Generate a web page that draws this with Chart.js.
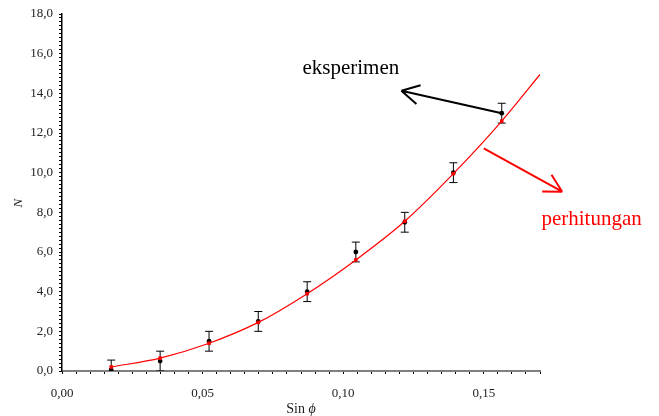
<!DOCTYPE html>
<html>
<head>
<meta charset="utf-8">
<script src="https://cdn.jsdelivr.net/npm/chart.js@4.4.1/dist/chart.umd.min.js"></script>
<style>
  html, body { margin: 0; padding: 0; background: #fff; }
  #wrap { width: 659px; height: 416px; position: relative; }
</style>
</head>
<body>
<div id="wrap"><canvas id="chart"></canvas></div>
<script>
// sin phi untuk sudut 1..9 derajat
const sinPhi = [0.0175, 0.0349, 0.0523, 0.0698, 0.0872, 0.1045, 0.1219, 0.1392, 0.1564];
const nExp   = [0.05, 0.5, 1.5, 2.5, 4.0, 6.0, 7.5, 10.0, 13.0];
const nErr   = [0.5, 0.5, 0.5, 0.5, 0.5, 0.5, 0.5, 0.5, 0.5];
const nCalc  = [0.2, 0.65, 1.4, 2.45, 3.9, 5.6, 7.55, 9.95, 12.6];
// kurva perhitungan (garis merah)
const curveSin = [0.0175, 0.0349, 0.0523, 0.0698, 0.0872, 0.1045, 0.1219, 0.1392, 0.1564, 0.17];
const curveN   = [0.2, 0.65, 1.4, 2.45, 3.9, 5.6, 7.55, 9.95, 12.6, 14.95];
const xTickLabels = [0, 0.05, 0.10, 0.15];
const yTickLabels = [0, 2, 4, 6, 8, 10, 12, 14, 16, 18];

// keterangan panah, dalam satuan data
const notes = [
  { text: 'eksperimen', color: '#000', at: [0.0855, 14.96], from: [0.1564, 13.0], to: [0.1207, 14.13] },
  { text: 'perhitungan', color: '#ff0000', at: [0.1705, 7.36], from: [0.15, 11.23], to: [0.1779, 9.04] }
];

const SERIF = "'Liberation Serif', 'Times New Roman', serif";
const isTick = (list, v) => list.some(t => Math.abs(t - v) < 1e-6);
const comma = (v, d) => v.toFixed(d).replace('.', ',');

function arrow(ctx, x1, y1, x2, y2, color) {
  const a = Math.atan2(y1 - y2, x1 - x2);
  ctx.strokeStyle = color;
  ctx.lineWidth = 2;
  ctx.beginPath();
  ctx.moveTo(x1, y1);
  ctx.lineTo(x2, y2);
  for (const s of [-1, 1]) {
    ctx.moveTo(x2, y2);
    ctx.lineTo(x2 + 20 * Math.cos(a + s * 0.5), y2 + 20 * Math.sin(a + s * 0.5));
  }
  ctx.stroke();
}

const sketch = {
  id: 'sketch',
  beforeDatasetsDraw(chart) {
    const { ctx, chartArea: ca, scales: { x, y } } = chart;
    ctx.save();
    ctx.beginPath();
    ctx.rect(ca.left, ca.top, ca.right - ca.left, ca.bottom - ca.top);
    ctx.clip();
    ctx.strokeStyle = '#000';
    ctx.lineWidth = 1;
    sinPhi.forEach((s, i) => {
      const px = x.getPixelForValue(s);
      const top = y.getPixelForValue(nExp[i] + nErr[i]);
      const bot = y.getPixelForValue(nExp[i] - nErr[i]);
      ctx.beginPath();
      ctx.moveTo(px, top); ctx.lineTo(px, bot);
      ctx.moveTo(px - 4, top); ctx.lineTo(px + 4, top);
      ctx.moveTo(px - 4, bot); ctx.lineTo(px + 4, bot);
      ctx.stroke();
    });
    ctx.restore();
  },
  afterDraw(chart) {
    const { ctx, chartArea: ca, scales: { x, y } } = chart;
    ctx.save();
    notes.forEach(n => {
      arrow(ctx, x.getPixelForValue(n.from[0]), y.getPixelForValue(n.from[1]),
        x.getPixelForValue(n.to[0]), y.getPixelForValue(n.to[1]), n.color);
      ctx.fillStyle = n.color;
      ctx.font = '21px ' + SERIF;
      ctx.textAlign = 'left';
      ctx.textBaseline = 'alphabetic';
      ctx.fillText(n.text, x.getPixelForValue(n.at[0]), y.getPixelForValue(n.at[1]));
    });

    // judul sumbu
    ctx.fillStyle = '#222';
    ctx.textBaseline = 'alphabetic';
    const reg = '14px ' + SERIF, ita = 'italic 14px ' + SERIF;
    ctx.font = reg;
    const w1 = ctx.measureText('Sin ').width;
    ctx.font = ita;
    const w2 = ctx.measureText('\u03D5').width;
    let tx = (ca.left + ca.right) / 2 - (w1 + w2) / 2;
    ctx.textAlign = 'left';
    ctx.font = reg;
    ctx.fillText('Sin ', tx, 413);
    ctx.font = ita;
    ctx.fillText('\u03D5', tx + w1, 413);

    ctx.translate(22, ca.top + (ca.bottom - ca.top) * 0.53);
    ctx.rotate(-Math.PI / 2);
    ctx.font = 'italic 13px ' + SERIF;
    ctx.textAlign = 'center';
    ctx.fillText('N', 0, 0);
    ctx.restore();
  }
};

new Chart(document.getElementById('chart'), {
  type: 'scatter',
  data: {
    datasets: [
      {
        label: 'perhitungan',
        type: 'line',
        data: curveSin.map((s, i) => ({ x: s, y: curveN[i] })),
        borderColor: '#ff0000',
        borderWidth: 1.2,
        pointRadius: 0,
        tension: 0.4,
        cubicInterpolationMode: 'monotone',
        fill: false,
        order: 1
      },
      {
        label: 'titik perhitungan',
        data: sinPhi.map((s, i) => ({ x: s, y: nCalc[i] })),
        pointStyle: 'rect',
        pointRadius: 2.5,
        backgroundColor: '#ff0000',
        borderColor: '#ff0000',
        borderWidth: 0,
        order: 0
      },
      {
        label: 'eksperimen',
        data: sinPhi.map((s, i) => ({ x: s, y: nExp[i] })),
        pointStyle: 'circle',
        pointRadius: 2.4,
        backgroundColor: '#000',
        borderColor: '#000',
        borderWidth: 0,
        order: 2
      }
    ]
  },
  options: {
    responsive: true,
    maintainAspectRatio: false,
    animation: false,
    layout: { padding: { top: 14, right: 119, left: 0, bottom: 0 } },
    plugins: { legend: { display: false }, tooltip: { enabled: false } },
    scales: {
      x: {
        type: 'linear', min: 0, max: 0.17,
        afterFit: s => { s.height = 45; },
        grid: { drawOnChartArea: false, drawTicks: true, tickLength: 3, tickColor: '#000', tickWidth: 1 },
        border: { color: '#808080', width: 2 },
        ticks: {
          stepSize: 0.005, autoSkip: false, maxRotation: 0, minRotation: 0, padding: 12,
          color: '#222', font: { family: SERIF, size: 13 },
          callback: v => isTick(xTickLabels, v) ? comma(v, 2) : ''
        }
      },
      y: {
        min: 0, max: 18,
        afterFit: s => { s.width = 62; },
        grid: { drawOnChartArea: false, drawTicks: true, tickLength: 3, tickColor: '#000', tickWidth: 1 },
        border: { color: '#000', width: 1.5 },
        ticks: {
          stepSize: 0.2, autoSkip: false, padding: 6,
          color: '#222', font: { family: SERIF, size: 13 },
          callback: v => isTick(yTickLabels, v) ? comma(v, 1) : ''
        }
      }
    }
  },
  plugins: [sketch]
});
</script>
</body>
</html>
